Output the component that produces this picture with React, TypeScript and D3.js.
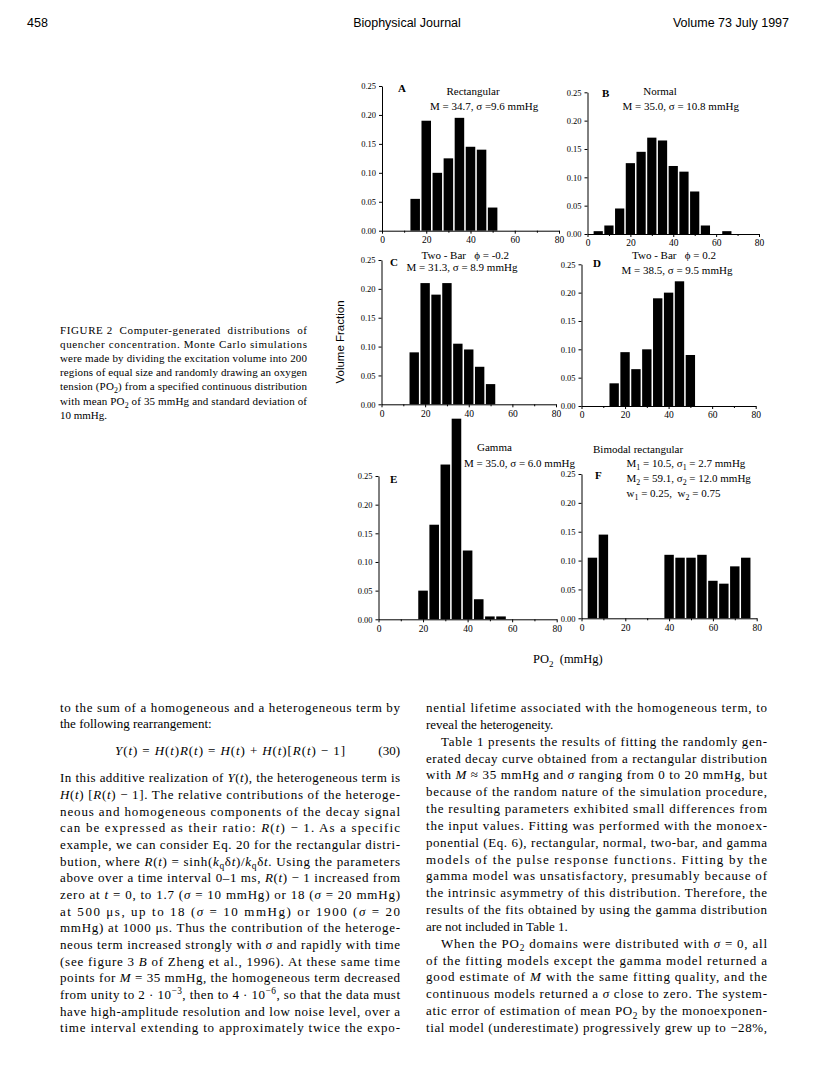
import React, { useRef, useEffect } from "react";
import { select, scaleLinear, axisBottom, axisLeft, format } from "d3";

// bin centres (mmHg) and volume fractions
const rectBins = [15, 20, 25, 30, 35, 40, 45, 50];
const rectValues = [0.055, 0.19, 0.1, 0.125, 0.195, 0.145, 0.14, 0.04];
const normalBins = [5, 10, 15, 20, 25, 30, 35, 40, 45, 50, 55, 65];
const normalValues = [0.005, 0.015, 0.045, 0.125, 0.145, 0.17, 0.165, 0.12, 0.11, 0.075, 0.015, 0.005];
const twoBarNegBins = [15, 20, 25, 30, 35, 40, 45, 50];
const twoBarNegValues = [0.09, 0.21, 0.19, 0.21, 0.105, 0.095, 0.065, 0.035];
const twoBarPosBins = [15, 20, 25, 30, 35, 40, 45, 50];
const twoBarPosValues = [0.04, 0.095, 0.065, 0.1, 0.19, 0.2, 0.22, 0.09];
const gammaBins = [20, 25, 30, 35, 40, 45, 50, 55];
const gammaValues = [0.05, 0.165, 0.27, 0.35, 0.12, 0.035, 0.005, 0.005];
const bimodalBins = [5, 10, 40, 45, 50, 55, 60, 65, 70, 75];
const bimodalValues = [0.105, 0.145, 0.11, 0.105, 0.105, 0.11, 0.065, 0.06, 0.09, 0.105];

const xTicks = [0, 20, 40, 60, 80];
const xMinorTicks = [10, 30, 50, 70];
const yTicks = [0, 0.05, 0.1, 0.15, 0.2, 0.25];

const serif = "'Liberation Serif', 'Times New Roman', serif";
const sans = "'Liberation Sans', Arial, sans-serif";

// pixel frame of each small plot on the page
const panels = [
  { id: "A", bins: rectBins, values: rectValues, left: 382, right: 559, bottom: 230.7, top: 86 },
  { id: "B", bins: normalBins, values: normalValues, left: 587.5, right: 759, bottom: 234, top: 92.3 },
  { id: "C", bins: twoBarNegBins, values: twoBarNegValues, left: 381.5, right: 556, bottom: 404.3, top: 260 },
  { id: "D", bins: twoBarPosBins, values: twoBarPosValues, left: 581.5, right: 755.7, bottom: 406, top: 264.3 },
  { id: "E", bins: gammaBins, values: gammaValues, left: 378.5, right: 556.7, bottom: 619.3, top: 476 },
  { id: "F", bins: bimodalBins, values: bimodalValues, left: 581.5, right: 756.7, bottom: 618.3, top: 474 },
];

// *italic*, _{sub}, ^{sup}
function parseRich(s) {
  const out = [];
  const re = /\*([^*]+)\*|_\{([^}]+)\}|\^\{([^}]+)\}|([^*_^]+)/g;
  let m;
  while ((m = re.exec(s))) {
    if (m[1] != null) out.push({ t: m[1], it: true, sh: 0 });
    else if (m[2] != null) out.push({ t: m[2], sh: 1 });
    else if (m[3] != null) out.push({ t: m[3], sh: -1 });
    else out.push({ t: m[4], sh: 0 });
  }
  return out;
}

const Rich = ({ x, y, s, size, width = undefined, anchor = "start", family = serif, weight = "normal" }) => {
  const parts = parseRich(s);
  let cur = 0;
  return (
    <text
      x={x}
      y={y}
      fontFamily={family}
      fontSize={size}
      fontWeight={weight}
      textAnchor={anchor}
      textLength={width}
      lengthAdjust={width ? "spacing" : undefined}
      style={{ whiteSpace: "pre" }}
    >
      {parts.map((p, i) => {
        const target = p.sh > 0 ? size * 0.28 : p.sh < 0 ? -size * 0.4 : 0;
        const dy = target - cur;
        cur = target;
        return (
          <tspan
            key={i}
            dy={dy || undefined}
            fontStyle={p.it ? "italic" : undefined}
            fontSize={p.sh ? size * 0.72 : undefined}
          >
            {p.t}
          </tspan>
        );
      })}
    </text>
  );
};

const caption = [
  "FIGURE 2  Computer-generated  distributions  of",
  "quencher concentration. Monte Carlo simulations",
  "were made by dividing the excitation volume into 200",
  "regions of equal size and randomly drawing an oxygen",
  "tension (PO_{2}) from a specified continuous distribution",
  "with mean PO_{2} of 35 mmHg and standard deviation of",
  "10 mmHg.",
];

const leftTop = [
  { s: "to the sum of a homogeneous and a heterogeneous term by", j: true },
  { s: "the following rearrangement:", j: false },
];
const leftBottom = [
  { s: "In this additive realization of *Y*(*t*), the heterogeneous term is", j: true },
  { s: "*H*(*t*) [*R*(*t*) − 1]. The relative contributions of the heteroge-", j: true },
  { s: "neous and homogeneous components of the decay signal", j: true },
  { s: "can be expressed as their ratio: *R*(*t*) − 1. As a specific", j: true },
  { s: "example, we can consider Eq. 20 for the rectangular distri-", j: true },
  { s: "bution, where *R*(*t*) = sinh(*k*_{q}δ*t*)/*k*_{q}δ*t*. Using the parameters", j: true },
  { s: "above over a time interval 0–1 ms, *R*(*t*) − 1 increased from", j: true },
  { s: "zero at *t* = 0, to 1.7 (*σ* = 10 mmHg) or 18 (*σ* = 20 mmHg)", j: true },
  { s: "at 500 μs, up to 18 (*σ* = 10 mmHg) or 1900 (*σ* = 20", j: true },
  { s: "mmHg) at 1000 μs. Thus the contribution of the heteroge-", j: true },
  { s: "neous term increased strongly with *σ* and rapidly with time", j: true },
  { s: "(see figure 3 *B* of Zheng et al., 1996). At these same time", j: true },
  { s: "points for *M* = 35 mmHg, the homogeneous term decreased", j: true },
  { s: "from unity to 2 · 10^{−3}, then to 4 · 10^{−6}, so that the data must", j: true },
  { s: "have high-amplitude resolution and low noise level, over a", j: true },
  { s: "time interval extending to approximately twice the expo-", j: true },
];
const rightLines = [
  { s: "nential lifetime associated with the homogeneous term, to", j: true },
  { s: "reveal the heterogeneity.", j: false },
  { s: "Table 1 presents the results of fitting the randomly gen-", j: true, ind: true },
  { s: "erated decay curve obtained from a rectangular distribution", j: true },
  { s: "with *M* ≈ 35 mmHg and *σ* ranging from 0 to 20 mmHg, but", j: true },
  { s: "because of the random nature of the simulation procedure,", j: true },
  { s: "the resulting parameters exhibited small differences from", j: true },
  { s: "the input values. Fitting was performed with the monoex-", j: true },
  { s: "ponential (Eq. 6), rectangular, normal, two-bar, and gamma", j: true },
  { s: "models of the pulse response functions. Fitting by the", j: true },
  { s: "gamma model was unsatisfactory, presumably because of", j: true },
  { s: "the intrinsic asymmetry of this distribution. Therefore, the", j: true },
  { s: "results of the fits obtained by using the gamma distribution", j: true },
  { s: "are not included in Table 1.", j: false },
  { s: "When the PO_{2} domains were distributed with *σ* = 0, all", j: true, ind: true },
  { s: "of the fitting models except the gamma model returned a", j: true },
  { s: "good estimate of *M* with the same fitting quality, and the", j: true },
  { s: "continuous models returned a *σ* close to zero. The system-", j: true },
  { s: "atic error of estimation of mean PO_{2} by the monoexponen-", j: true },
  { s: "tial model (underestimate) progressively grew up to −28%,", j: true },
];

const Para = ({ lines, x, w, y0, step, size }) => (
  <g>
    {lines.map((l, i) => {
      const ind = l.ind ? 15 : 0;
      return (
        <Rich key={i} x={x + ind} y={y0 + i * step} s={l.s} size={size} width={l.j ? w - ind : undefined} />
      );
    })}
  </g>
);

const App = () => {
  const svgRef = useRef(null);

  useEffect(() => {
    const svg = select(svgRef.current);
    panels.forEach(p => {
      const x = scaleLinear().domain([0, 80]).range([p.left, p.right]);
      const y = scaleLinear().domain([0, 0.25]).range([p.bottom, p.top]);
      const g = svg.select(`.panel-${p.id}`);
      g.selectAll("*").remove();

      g.selectAll(".bar")
        .data(p.bins.map((b, i) => ({ b, v: p.values[i] })))
        .join("rect")
        .attr("class", "bar")
        .attr("x", d => x(d.b - 2.15))
        .attr("width", x(4.3) - x(0))
        .attr("y", d => y(d.v))
        .attr("height", d => y(0) - y(d.v))
        .attr("fill", "#000");

      const xa = g.append("g")
        .attr("transform", `translate(0,${p.bottom})`)
        .call(axisBottom(x).tickValues(xTicks).tickSize(3).tickSizeOuter(0).tickPadding(2.5));
      xa.attr("font-family", serif).attr("font-size", 9.5);

      const xm = g.append("g")
        .attr("transform", `translate(0,${p.bottom})`)
        .call(axisBottom(x).tickValues(xMinorTicks).tickSize(2).tickFormat(() => ""));
      xm.select(".domain").remove();

      const ya = g.append("g")
        .attr("transform", `translate(${p.left},0)`)
        .call(axisLeft(y).tickValues(yTicks).tickSize(3).tickSizeOuter(0).tickPadding(3).tickFormat(format(".2f")));
      ya.attr("font-family", serif).attr("font-size", 8.5);
    });
  }, []);

  return (
    <svg
      ref={svgRef}
      width={816}
      height={1078}
      style={{ position: "absolute", left: 0, top: 0, background: "#fff" }}
    >
      <rect width={816} height={1078} fill="#fff" />

      {/* running head */}
      <text x={27} y={27} fontFamily={sans} fontSize={12.5}>458</text>
      <text x={407} y={27} fontFamily={sans} fontSize={12.5} textAnchor="middle">Biophysical Journal</text>
      <text x={789} y={27} fontFamily={sans} fontSize={12.5} textAnchor="end">Volume 73  July 1997</text>

      {/* caption */}
      {caption.map((s, i) => (
        <Rich key={i} x={60} y={333.5 + i * 14.2} s={s} size={11} width={i < caption.length - 1 ? 247 : undefined} />
      ))}

      {panels.map(p => (
        <g key={p.id} className={`panel-${p.id}`} />
      ))}

      {/* panel annotations */}
      <text x={398} y={92} fontFamily={serif} fontSize={11} fontWeight="bold">A</text>
      <Rich x={473} y={95} s="Rectangular" size={11} anchor="middle" />
      <Rich x={430} y={109.5} s="M = 34.7, σ =9.6 mmHg" size={11} />

      <text x={602} y={96.5} fontFamily={serif} fontSize={11} fontWeight="bold">B</text>
      <Rich x={660} y={95} s="Normal" size={11} anchor="middle" />
      <Rich x={622.5} y={110} s="M = 35.0, σ = 10.8 mmHg" size={11} />

      <text x={390} y={266} fontFamily={serif} fontSize={11} fontWeight="bold">C</text>
      <Rich x={421.5} y={258.5} s="Two - Bar   ϕ = -0.2" size={11} />
      <Rich x={406.5} y={270.5} s="M = 31.3, σ = 8.9 mmHg" size={11} />

      <text x={593} y={266.5} fontFamily={serif} fontSize={11} fontWeight="bold">D</text>
      <Rich x={632} y={259} s="Two - Bar   ϕ = 0.2" size={11} />
      <Rich x={621.5} y={274} s="M = 38.5, σ = 9.5 mmHg" size={11} />

      <text x={390} y={482.5} fontFamily={serif} fontSize={11} fontWeight="bold">E</text>
      <Rich x={477} y={451} s="Gamma" size={11} />
      <Rich x={464} y={467} s="M = 35.0, σ = 6.0 mmHg" size={11} />

      <text x={595} y={478.5} fontFamily={serif} fontSize={11} fontWeight="bold">F</text>
      <Rich x={593} y={452.5} s="Bimodal rectangular" size={11} />
      <Rich x={626.5} y={467} s="M_{1} = 10.5, σ_{1} = 2.7 mmHg" size={11} />
      <Rich x={626.5} y={482} s="M_{2} = 59.1, σ_{2} = 12.0 mmHg" size={11} />
      <Rich x={626.5} y={497} s="w_{1} = 0.25,  w_{2} = 0.75" size={11} />

      {/* shared axis titles */}
      <text
        transform="translate(344,342) rotate(-90)"
        fontFamily={sans}
        fontSize={11.5}
        textAnchor="middle"
      >
        Volume Fraction
      </text>
      <Rich x={533} y={663} s="PO_{2}  (mmHg)" size={12.5} />

      {/* body text */}
      <Para lines={leftTop} x={60} w={340} y0={712} step={16.4} size={13} />
      <Rich x={115} y={755} s="*Y*(*t*) = *H*(*t*)*R*(*t*) = *H*(*t*) + *H*(*t*)[*R*(*t*) − 1]" size={13} width={230} />
      <Rich x={400} y={755} s="(30)" size={13} anchor="end" />
      <Para lines={leftBottom} x={60} w={340} y0={782.3} step={16.67} size={13} />
      <Para lines={rightLines} x={426} w={341} y0={712} step={16.84} size={13} />
    </svg>
  );
};

export default App;
